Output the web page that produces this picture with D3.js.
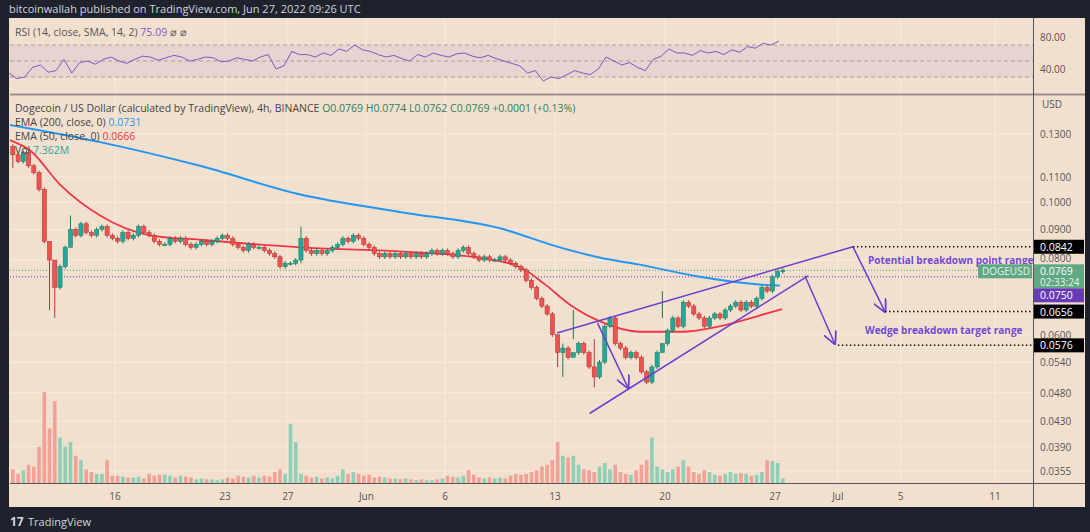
<!DOCTYPE html>
<html>
<head>
<script src="https://d3js.org/d3.v7.min.js"></script>
<style>
body{margin:0;background:#1e222d;font-family:"Open Sans",Roboto,sans-serif;}
</style>
</head>
<body>
<script>
// 8h candles starting May 9 2022, three per day
var closes = [
 0.124,0.120,0.117, 0.121,0.115,0.112, 0.105,0.086,0.080, 0.072,0.078,0.084,
 0.090,0.088,0.092, 0.089,0.088,0.090, 0.091,0.088,0.087, 0.086,0.089,0.087,
 0.088,0.091,0.089, 0.088,0.086,0.085, 0.085,0.087,0.086, 0.087,0.085,0.084,
 0.085,0.086,0.085, 0.086,0.087,0.088, 0.087,0.085,0.084, 0.083,0.085,0.084,
 0.084,0.083,0.082, 0.081,0.078,0.079, 0.079,0.080,0.087, 0.083,0.082,0.083,
 0.082,0.083,0.084, 0.085,0.087,0.086, 0.088,0.087,0.085, 0.084,0.082,0.081,
 0.082,0.081,0.082, 0.081,0.082,0.081, 0.082,0.081,0.082, 0.083,0.082,0.083,
 0.082,0.081,0.083, 0.084,0.082,0.081, 0.080,0.081,0.080, 0.080,0.081,0.080,
 0.079,0.078,0.077, 0.074,0.072,0.069, 0.067,0.065,0.060, 0.056,0.057,0.055,
 0.056,0.058,0.056, 0.053,0.051,0.054, 0.062,0.064,0.058, 0.057,0.055,0.056,
 0.055,0.052,0.050, 0.053,0.056,0.058, 0.061,0.064,0.062, 0.068,0.067,0.065,
 0.064,0.062,0.064, 0.065,0.064,0.066, 0.067,0.068,0.066, 0.068,0.067,0.069,
 0.072,0.071,0.075, 0.0765,0.0769];
var firstOpen = 0.128;
// notable wicks: [candle index, high, low]
var wicks = [[1,0.125,0.114],[8,0.086,0.066],[9,0.080,0.064],[12,0.095,0.085],[56,0.091,0.079],
  [105,0.058,0.053],[106,0.058,0.051],[108,0.066,0.059],[112,0.059,0.049],[125,0.071,0.064]];
var volumes = [
 12,15,10, 14,20,18, 40,100,60, 90,50,40, 45,30,25, 15,12,10, 10,25,8, 8,7,6,
 6,7,5, 10,8,9, 9,8,6, 8,7,6, 4,5,4, 4,3,4, 6,5,8, 7,6,8, 6,8,7, 12,15,10,
 65,45,10, 8,6,7, 5,6,5, 8,15,10, 12,10,8, 9,6,7, 6,5,5, 4,5,4, 3,4,3, 3,4,5,
 8,7,6, 8,14,9, 6,5,6, 5,6,5, 8,10,9, 10,12,14, 18,20,25, 45,30,28, 30,20,15,
 14,12,18, 22,15,20, 12,10,9, 14,20,25, 50,18,15, 12,15,18, 25,18,12, 10,14,12,
 9,8,10, 12,10,11, 10,8,9, 12,25,24, 22,5];
// EMA readings: day offset from May 9, value
var ema200Days = [0.3, 6.05, 12.4, 18.8, 25.1, 31.5, 35.3, 37.9, 40.4, 44.2, 48.0, 49.3];
var ema200Vals = [0.1346,0.126,0.115,0.103,0.0963,0.0904,0.0840,0.0807,0.0786,0.0750,0.0728,0.0725];
var ema50Days = [0.3,1.6,3.5,6.05,9.23,12.4,18.8,25.1,30.2,32.8,34.4,36.0,37.9,40.4,43.0,45.5,48.0,49.45];
var ema50Vals = [0.127,0.122,0.107,0.095,0.088,0.0865,0.084,0.0827,0.0807,0.0778,0.0727,0.0672,0.0631,0.0607,0.0607,0.062,0.0646,0.0662];
// RSI, two readings per day
var rsiVals = [35,28, 30,42, 45,36, 38,52, 35,48, 50,46, 52,55, 50,47, 52,56, 55,51, 54,57, 55,50, 52,55, 54,49,
  50,54, 52,50, 55,58, 40,44, 62,58, 58,55, 60,57, 65,62, 70,64, 62,58, 55,57, 53,50, 58,55, 60,57, 55,59, 60,56,
  54,57, 53,50, 47,44, 35,38, 25,30, 28,33, 38,35, 33,40, 55,50, 45,48, 42,38, 52,56, 65,60, 60,57, 63,60,
  62,58, 64,61, 68,66, 72,70, 75];
var priceTicks = [0.13,0.11,0.10,0.09,0.08,0.06,0.054,0.048,0.043,0.039,0.0355];
var dateTicks = [["2022-05-16","16"],["2022-05-23","23"],["2022-05-27","27"],["2022-06-01","Jun"],["2022-06-06","6"],
  ["2022-06-13","13"],["2022-06-20","20"],["2022-06-27","27"],["2022-07-01","Jul"],["2022-07-05","5"],["2022-07-11","11"]];
// annotations as [day offset from May 9, price]
var wedgeUpper = [[35.13,0.0604],[53.96,0.0842]];
var wedgeLower = [[37.2,0.0443],[51.1,0.0753]];
var arrows = [[[37.7,0.0628],[39.65,0.0489]],[[53.96,0.0842],[56.0,0.0656]],[[50.9,0.0753],[52.8,0.0580]]];
var levels = [[53.96,0.0842],[56.0,0.0656],[53.0,0.0576]];

var W=1090,H=532, L=10, R=1033, T=96, B=483;
var t0 = new Date(2022,4,9);
function dayDate(d){ return new Date(t0.getTime()+d*864e5); }
var x = d3.scaleTime().domain([new Date(2022,4,16),new Date(2022,5,13)]).range([115,555]);
var y = d3.scaleLog().domain([0.0355,0.13]).range([471,134]);
var yv = d3.scaleLinear().domain([0,100]).range([B,392]);
var yr = d3.scaleLinear().domain([80,40]).range([37,69]);

var svg = d3.select("body").append("svg").attr("width",W).attr("height",H);
svg.append("rect").attr("width",W).attr("height",H).attr("fill","#1e222d");
svg.append("rect").attr("x",L-1).attr("y",18).attr("width",1076).attr("height",489).attr("fill","#f2e0cf");
svg.append("text").attr("x",9).attr("y",13).attr("fill","#d1d4dc").attr("font-size",11)
  .text("bitcoinwallah published on TradingView.com, Jun 27, 2022 09:26 UTC");

// grid
var g = svg.append("g");
dateTicks.forEach(function(t){
  var xx = x(new Date(t[0]+"T00:00"));
  g.append("line").attr("x1",xx).attr("x2",xx).attr("y1",19).attr("y2",B).attr("stroke","#f7ebdf").attr("stroke-width",1);
  svg.append("text").attr("x",xx).attr("y",500).attr("text-anchor","middle").attr("font-size",10).attr("fill","#555")
    .text(t[1]);
});
priceTicks.forEach(function(p){
  g.append("line").attr("x1",L).attr("x2",R).attr("y1",y(p)).attr("y2",y(p)).attr("stroke","#f7ebdf");
  svg.append("text").attr("x",1040).attr("y",y(p)+(p===0.08?2:4)).attr("font-size",10).attr("fill","#555").text(p.toFixed(4));
});

// RSI pane
svg.append("rect").attr("x",L).attr("y",yr(70)).attr("width",R-L).attr("height",yr(30)-yr(70)).attr("fill","#e3cfd0").attr("opacity",0.8);
[70,50,30].forEach(function(v){
  svg.append("line").attr("x1",L).attr("x2",R).attr("y1",yr(v)).attr("y2",yr(v)).attr("stroke","#9a8f8f").attr("stroke-dasharray","4,3").attr("stroke-width",0.8);
});
svg.append("path").datum(rsiVals).attr("fill","none").attr("stroke","#7e57c2").attr("stroke-width",1)
  .attr("d",d3.line().x(function(d,i){return x(dayDate(i/2+0.25));}).y(function(d){return yr(d);}));
svg.append("text").attr("x",15).attr("y",36).attr("font-size",10.5).attr("fill","#555").text("RSI (14, close, SMA, 14, 2) ")
  .append("tspan").attr("fill","#7e57c2").text("75.09").append("tspan").attr("fill","#555").text("  \u2300  \u2300");
["80.00","40.00"].forEach(function(s){
  svg.append("text").attr("x",1040).attr("y",yr(+s)+4).attr("font-size",10).attr("fill","#555").text(s);
});
svg.append("line").attr("x1",L).attr("x2",1085).attr("y1",94.5).attr("y2",94.5).attr("stroke","#9b9189").attr("stroke-width",2);

// main pane content (clipped)
svg.append("clipPath").attr("id","c").append("rect").attr("x",L).attr("y",T).attr("width",R-L).attr("height",B-T);
var m = svg.append("g").attr("clip-path","url(#c)");
var cw = x(dayDate(1/3))-x(dayDate(0));
var candles = closes.map(function(c,i){
  var o = i===0?firstOpen:closes[i-1];
  var hi = Math.max(o,c)*1.008, lo = Math.min(o,c)*0.992;
  wicks.forEach(function(w){ if(w[0]===i){hi=w[1];lo=w[2];} });
  return {t:dayDate(i/3+1/6),o:o,c:c,h:hi,l:lo,v:volumes[i]};
});
m.selectAll(".vol").data(candles).enter().append("rect")
  .attr("x",function(d){return x(d.t)-cw*0.35;}).attr("width",cw*0.7)
  .attr("y",function(d){return yv(d.v);}).attr("height",function(d){return B-yv(d.v);})
  .attr("fill",function(d){return d.c>=d.o?"#8fcfb5":"#f2a197";});
m.append("line").attr("x1",L).attr("x2",R).attr("y1",y(0.0769)).attr("y2",y(0.0769)).attr("stroke","#5f9e7b").attr("stroke-dasharray","1,2");
m.append("line").attr("x1",L).attr("x2",R).attr("y1",y(0.0750)).attr("y2",y(0.0750)).attr("stroke","#673ab7").attr("stroke-dasharray","1,2");
var emaLine = d3.line().x(function(d){return x(dayDate(d[0]));}).y(function(d){return y(d[1]);}).curve(d3.curveMonotoneX);
m.append("path").datum(d3.zip(ema200Days,ema200Vals)).attr("fill","none").attr("stroke","#2196f3").attr("stroke-width",2).attr("d",emaLine);
m.append("path").datum(d3.zip(ema50Days,ema50Vals)).attr("fill","none").attr("stroke","#f23645").attr("stroke-width",1.8).attr("d",emaLine);
var cg = m.selectAll(".cdl").data(candles).enter().append("g");
cg.append("line").attr("x1",function(d){return x(d.t);}).attr("x2",function(d){return x(d.t);})
  .attr("y1",function(d){return y(d.h);}).attr("y2",function(d){return y(d.l);})
  .attr("stroke",function(d){return d.c>=d.o?"#1e7a55":"#b23a3a";});
cg.append("rect").attr("x",function(d){return x(d.t)-cw*0.4;}).attr("width",cw*0.8)
  .attr("y",function(d){return y(Math.max(d.o,d.c));})
  .attr("height",function(d){return Math.max(1,Math.abs(y(d.o)-y(d.c)));})
  .attr("fill",function(d){return d.c>=d.o?"#26a69a":"#ef5350";})
  .attr("stroke",function(d){return d.c>=d.o?"#1e7a55":"#a33";}).attr("stroke-width",0.5);

// annotations
var P = function(p){return [x(dayDate(p[0])),y(p[1])];};
var purple = "#6a3fd0";
svg.append("defs").append("marker").attr("id","ah").attr("viewBox","0 0 10 10").attr("refX",9).attr("refY",5)
  .attr("markerWidth",9).attr("markerHeight",9).attr("orient","auto")
  .append("path").attr("d","M0,0 L10,5 L0,10").attr("fill","none").attr("stroke",purple).attr("stroke-width",1.3);
[wedgeUpper,wedgeLower].forEach(function(w){
  var a=P(w[0]),b=P(w[1]);
  m.append("line").attr("x1",a[0]).attr("y1",a[1]).attr("x2",b[0]).attr("y2",b[1]).attr("stroke",purple).attr("stroke-width",1.5);
});
arrows.forEach(function(w){
  var a=P(w[0]),b=P(w[1]);
  m.append("line").attr("x1",a[0]).attr("y1",a[1]).attr("x2",b[0]).attr("y2",b[1]).attr("stroke",purple).attr("stroke-width",1.5).attr("marker-end","url(#ah)");
});
levels.forEach(function(l){
  var a=P(l);
  m.append("line").attr("x1",a[0]).attr("x2",R).attr("y1",a[1]).attr("y2",a[1]).attr("stroke","#111").attr("stroke-width",1.5).attr("stroke-dasharray","1.5,2.5");
});
svg.append("text").attr("x",868).attr("y",264).attr("font-size",10).attr("font-weight","bold").attr("fill","#7349d6").text("Potential breakdown point range");
svg.append("text").attr("x",865).attr("y",334).attr("font-size",10).attr("font-weight","bold").attr("fill","#7349d6").text("Wedge breakdown target range");

// legend
var lg = svg.append("text").attr("x",15).attr("y",112).attr("font-size",10.5).attr("fill","#444")
  .text("Dogecoin / US Dollar (calculated by TradingView), 4h, BINANCE  ");
lg.append("tspan").attr("fill","#2f7d5a").text("O0.0769  H0.0774  L0.0762  C0.0769  +0.0001 (+0.13%)");
var lg2=svg.append("text").attr("x",15).attr("y",126).attr("font-size",10.5).attr("fill","#444").text("EMA (200, close, 0)  ");
lg2.append("tspan").attr("fill","#2196f3").text("0.0731");
var lg3=svg.append("text").attr("x",15).attr("y",140).attr("font-size",10.5).attr("fill","#444").text("EMA (50, close, 0)  ");
lg3.append("tspan").attr("fill","#f23645").text("0.0666");
var lg4=svg.append("text").attr("x",15).attr("y",154).attr("font-size",10.5).attr("fill","#444").text("Vol  ");
lg4.append("tspan").attr("fill","#26a69a").text("7.362M");

// axes frame
svg.append("line").attr("x1",R+0.5).attr("x2",R+0.5).attr("y1",18).attr("y2",507).attr("stroke","#555");
svg.append("line").attr("x1",L).attr("x2",1085).attr("y1",B+0.5).attr("y2",B+0.5).attr("stroke","#555");
svg.append("text").attr("x",1042).attr("y",108).attr("font-size",10).attr("fill","#555").text("USD");

// price labels
function tag(yc,txt,bg,fg,h){
  svg.append("rect").attr("x",R+1).attr("y",yc-h/2).attr("width",50).attr("height",h).attr("fill",bg);
  svg.append("text").attr("x",1040).attr("y",yc+4).attr("font-size",10.5).attr("fill",fg).text(txt);
}
tag(y(0.0842),"0.0842","#000","#fff",14);
tag(y(0.0656),"0.0656","#000","#fff",14);
tag(y(0.0576),"0.0576","#000","#fff",14);
svg.append("rect").attr("x",R+1).attr("y",y(0.0769)-6).attr("width",50).attr("height",24).attr("fill","#5fa883");
svg.append("text").attr("x",1040).attr("y",y(0.0769)+5).attr("font-size",10.5).attr("fill","#fff").text("0.0769");
svg.append("text").attr("x",1040).attr("y",y(0.0769)+16).attr("font-size",10).attr("fill","#e8f5ec").text("02:33:24");
svg.append("rect").attr("x",978).attr("y",y(0.0769)-6).attr("width",54).attr("height",14).attr("fill","#5fa883");
svg.append("text").attr("x",982).attr("y",y(0.0769)+5).attr("font-size",10).attr("fill","#e8f5ec").text("DOGEUSD");
tag(y(0.0769)+25,"0.0750","#673ab7","#fff",14);

svg.append("text").attr("x",10).attr("y",526).attr("font-size",12).attr("font-weight","bold").attr("fill","#d1d4dc").text("17");
svg.append("text").attr("x",28).attr("y",526).attr("font-size",11).attr("fill","#d1d4dc").text("TradingView");
</script>
</body>
</html>
